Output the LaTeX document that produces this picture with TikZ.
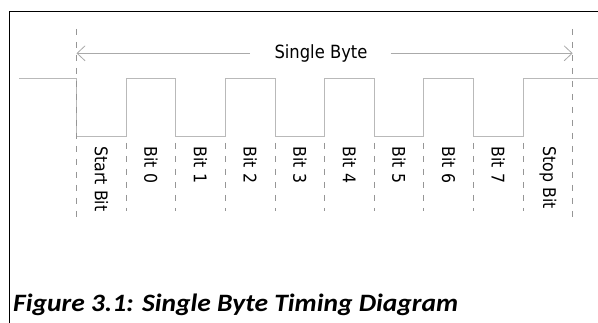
\documentclass[tikz,border=0pt]{standalone}
\usepackage{fontspec}
\setmainfont{DejaVu Sans}
\newfontfamily\condfont{DejaVu Sans Condensed}
\newfontfamily\capfont{Carlito}
\usetikzlibrary{arrows.meta}
\definecolor{sigcol}{RGB}{185,185,185}
\definecolor{dashcol}{RGB}{150,150,150}
\definecolor{arrcol}{RGB}{170,170,170}
\tikzset{
  border/.style={draw=black, line width=1pt},
  signal/.style={draw=sigcol, line width=0.9pt},
  bitsep/.style={draw=dashcol, line width=0.8pt, dash pattern=on 6pt off 7pt},
  spanarrow/.style={draw=arrcol, line width=0.8pt, -{Straight Barb[length=8pt,width=15pt,line width=0.8pt]}},
  bitlabel/.style={rotate=-90, anchor=west, inner sep=0pt, font=\condfont\fontsize{17.5}{20}\selectfont},
  titlelabel/.style={anchor=base, inner sep=0pt, font=\condfont\fontsize{18.2}{21}\selectfont},
  caption/.style={anchor=base west, inner sep=0pt, font=\capfont\bfseries\itshape\fontsize{25}{30}\selectfont}
}
\begin{document}
\begin{tikzpicture}[x=1pt,y=-1pt]
\useasboundingbox (0,0) rectangle (598,323);
% frame
\coordinate (fc) at (9.5,12);
\coordinate (fr) at (598,12);
\coordinate (fb) at (9.5,323);
\draw[border] (fr) -- (fc) -- (fb);
% signal
\coordinate (sa) at (19,78.7);
\coordinate (sz) at (598,78.7);
\draw[signal] (sa) -| (76.5,136.7) -| (126.1,78.7) -| (175.7,136.7) -| (225.4,78.7)
  -| (275.0,136.7) -| (324.6,78.7) -| (374.2,136.7) -| (423.8,78.7)
  -| (473.5,136.7) -| (523.1,78.7) -- (sz);
% outer dashed lines
\coordinate (o0t) at (76.5,29); \coordinate (o0b) at (76.5,219);
\coordinate (o1t) at (572.7,29); \coordinate (o1b) at (572.7,219);
\draw[bitsep] (o0t) -- (o0b);
\draw[bitsep] (o1t) -- (o1b);
% inner dashed lines
\foreach \i/\x in {1/126.1,2/175.7,3/225.4,4/275.0,5/324.6,6/374.2,7/423.8,8/473.5,9/523.1}{
  \coordinate (d\i t) at (\x,143);
  \coordinate (d\i b) at (\x,211);
  \draw[bitsep] (d\i t) -- (d\i b);
}
% span arrow
\node[titlelabel] (title) at (321,58.3) {Single Byte};
\coordinate (as) at (76.5,53.3);
\coordinate (ae) at (572.7,53.3);
\coordinate (al) at (250,53.3);
\coordinate (ar) at (390.7,53.3);
\draw[spanarrow] (al) -- (as);
\draw[spanarrow] (ar) -- (ae);
% bit labels
\foreach \i/\x/\t in {0/101.3/Start Bit,1/150.9/Bit 0,2/200.6/Bit 1,3/250.2/Bit 2,4/299.8/Bit 3,5/349.4/Bit 4,6/399.0/Bit 5,7/448.7/Bit 6,8/498.3/Bit 7,9/547.9/Stop Bit}{
  \node[bitlabel] (l\i) at (\x,146.5) {\t};
}
% caption
\node[caption] (cap) at (13,312) {\scalebox{1.1}[1]{Figure 3.1: Single Byte Timing Diagram}};
\end{tikzpicture}
\end{document}
